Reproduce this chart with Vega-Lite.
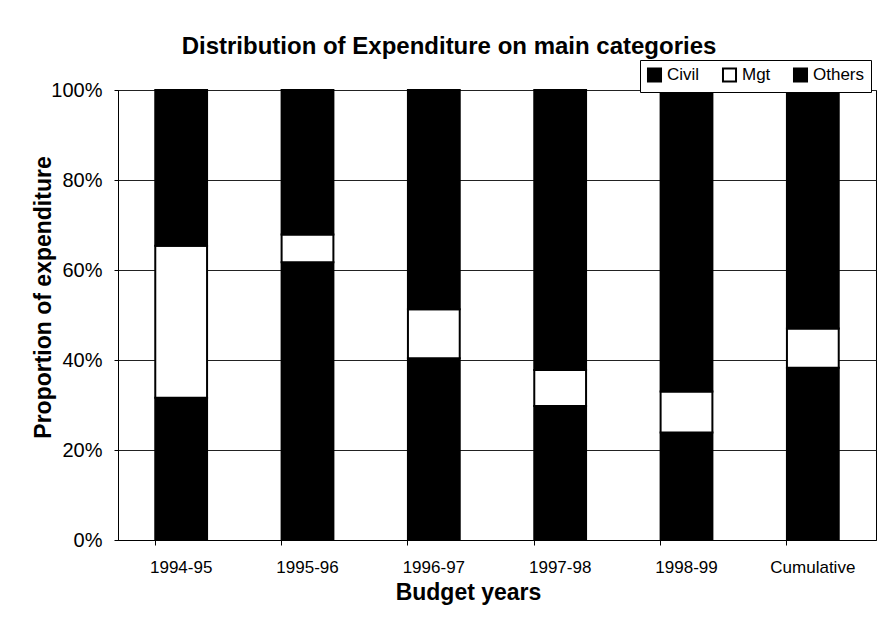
{
  "$schema": "https://vega.github.io/schema/vega-lite/v6.json",
  "width": 758,
  "height": 450,
  "autosize": {"type": "none"},
  "padding": {"left": 118, "top": 90, "right": 2, "bottom": 78},
  "background": "white",
  "title": {
    "text": "Distribution of Expenditure on main categories",
    "font": "Liberation Sans",
    "fontSize": 24,
    "fontWeight": "bold",
    "color": "black",
    "anchor": "middle",
    "dx": -48,
    "offset": 1
  },
  "data": {
    "values": [
      {"year": "1994-95", "category": "Civil", "value": 31.6, "ord": 1},
      {"year": "1994-95", "category": "Mgt", "value": 33.8, "ord": 2},
      {"year": "1994-95", "category": "Others", "value": 34.6, "ord": 3},
      {"year": "1995-96", "category": "Civil", "value": 61.7, "ord": 1},
      {"year": "1995-96", "category": "Mgt", "value": 6.2, "ord": 2},
      {"year": "1995-96", "category": "Others", "value": 32.1, "ord": 3},
      {"year": "1996-97", "category": "Civil", "value": 40.4, "ord": 1},
      {"year": "1996-97", "category": "Mgt", "value": 10.9, "ord": 2},
      {"year": "1996-97", "category": "Others", "value": 48.7, "ord": 3},
      {"year": "1997-98", "category": "Civil", "value": 29.8, "ord": 1},
      {"year": "1997-98", "category": "Mgt", "value": 8.0, "ord": 2},
      {"year": "1997-98", "category": "Others", "value": 62.2, "ord": 3},
      {"year": "1998-99", "category": "Civil", "value": 23.9, "ord": 1},
      {"year": "1998-99", "category": "Mgt", "value": 9.1, "ord": 2},
      {"year": "1998-99", "category": "Others", "value": 67.0, "ord": 3},
      {"year": "Cumulative", "category": "Civil", "value": 38.3, "ord": 1},
      {"year": "Cumulative", "category": "Mgt", "value": 8.7, "ord": 2},
      {"year": "Cumulative", "category": "Others", "value": 53.0, "ord": 3}
    ]
  },
  "mark": {"type": "bar", "stroke": "black", "strokeWidth": 2},
  "encoding": {
    "x": {
      "field": "year",
      "type": "nominal",
      "sort": null,
      "scale": {"paddingInner": 0.59, "paddingOuter": 0.295},
      "axis": {
        "title": "Budget years",
        "titleFont": "Liberation Sans",
        "titleFontSize": 23,
        "titleFontWeight": "bold",
        "titleColor": "black",
        "titleX": 350,
        "titleY": 59,
        "titleBaseline": "alphabetic",
        "labelAngle": 0,
        "labelFont": "Liberation Sans",
        "labelFontSize": 17,
        "labelColor": "black",
        "labelPadding": 14,
        "bandPosition": 0,
        "tickColor": "black",
        "tickSize": 5,
        "domainColor": "black",
        "grid": false
      }
    },
    "y": {
      "field": "value",
      "type": "quantitative",
      "stack": "normalize",
      "scale": {"domain": [0, 1]},
      "axis": {
        "title": "Proportion of expenditure",
        "titleFont": "Liberation Sans",
        "titleFontSize": 23,
        "titleFontWeight": "bold",
        "titleColor": "black",
        "titleX": -75,
        "titleY": 207,
        "titleBaseline": "middle",
        "format": ".0%",
        "values": [0, 0.2, 0.4, 0.6, 0.8, 1],
        "labelFont": "Liberation Sans",
        "labelFontSize": 20,
        "labelColor": "black",
        "labelPadding": 12,
        "tickColor": "black",
        "tickSize": 4,
        "domainColor": "black",
        "grid": true,
        "gridColor": "#222222",
        "gridWidth": 1
      }
    },
    "color": {
      "field": "category",
      "type": "nominal",
      "scale": {"domain": ["Civil", "Mgt", "Others"], "range": ["black", "white", "black"]},
      "legend": {
        "title": null,
        "orient": "none",
        "legendX": 522,
        "legendY": -30,
        "direction": "horizontal",
        "symbolType": "square",
        "symbolSize": 170,
        "symbolStrokeColor": "black",
        "symbolStrokeWidth": 2,
        "labelFont": "Liberation Sans",
        "labelFontSize": 17,
        "labelColor": "black",
        "labelOffset": 4,
        "columnPadding": 18,
        "strokeColor": "black",
        "fillColor": "white",
        "padding": 6
      }
    },
    "order": {"field": "ord", "type": "quantitative"}
  },
  "config": {
    "view": {"stroke": "black", "strokeWidth": 1}
  }
}
